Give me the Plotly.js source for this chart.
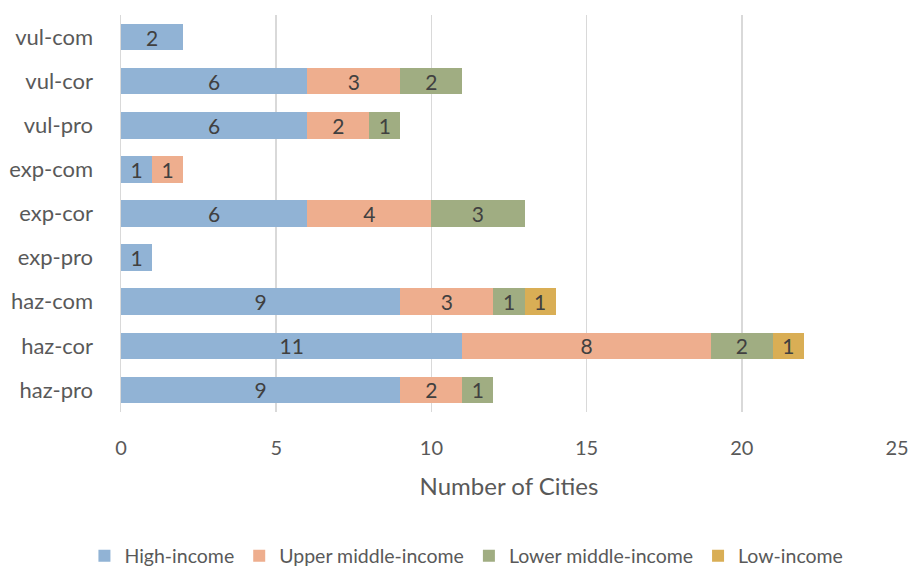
<!DOCTYPE html>
<html>
<head>
<meta charset="utf-8">
<script src="https://cdn.plot.ly/plotly-3.0.1.min.js"></script>
<style>html,body{margin:0;padding:0;background:#fff;}#chart{width:911px;height:567px;}</style>
</head>
<body>
<div id="chart"></div>
<script>
// Categories listed bottom to top
const categories = ["haz-pro", "haz-cor", "haz-com", "exp-pro", "exp-cor", "exp-com", "vul-pro", "vul-cor", "vul-com"];
const highIncome = [9, 11, 9, 1, 6, 1, 6, 6, 2];
const upperMiddleIncome = [2, 8, 3, null, 4, 1, 2, 3, null];
const lowerMiddleIncome = [1, 2, 1, null, 3, null, 1, 2, null];
const lowIncome = [null, 1, 1, null, null, null, null, null, null];
const seriesNames = ["High-income", "Upper middle-income", "Lower middle-income", "Low-income"];
const xTicks = [0, 5, 10, 15, 20, 25];

const colors = ["#91b3d5", "#eeae8e", "#a0ad82", "#d9ae55"];
const FONT = "Lato, 'Open Sans', sans-serif";
const textColor = "#404040";
const labelColor = "#595959";

function barTrace(name, values, color) {
  return {
    type: "bar",
    orientation: "h",
    name: name,
    y: categories,
    x: values,
    text: values.map(v => (v == null ? "" : String(v))),
    textposition: "inside",
    insidetextanchor: "middle",
    textangle: 0,
    constraintext: "none",
    textfont: {family: FONT, size: 21, color: textColor},
    marker: {color: color, line: {width: 0}},
    hoverinfo: "x+y+name"
  };
}

const data = [
  barTrace(seriesNames[0], highIncome, colors[0]),
  barTrace(seriesNames[1], upperMiddleIncome, colors[1]),
  barTrace(seriesNames[2], lowerMiddleIncome, colors[2]),
  barTrace(seriesNames[3], lowIncome, colors[3])
];

const layout = {
  width: 911,
  height: 567,
  barmode: "stack",
  bargap: 0.4,
  paper_bgcolor: "#ffffff",
  plot_bgcolor: "#ffffff",
  margin: {l: 121, r: 14, t: 15, b: 155, autoexpand: false},
  font: {family: FONT, color: textColor},
  xaxis: {
    range: [0, 25],
    tickvals: xTicks,
    ticktext: xTicks.map(String),
    showgrid: true,
    gridcolor: "#d9d9d9",
    gridwidth: 1.5,
    zeroline: false,
    showline: false,
    ticks: "",
    ticklabelstandoff: 22,
    tickfont: {family: FONT, size: 20, color: labelColor},
    title: {text: "Number of Cities", font: {family: FONT, size: 24, color: labelColor}, standoff: 20},
    fixedrange: true
  },
  yaxis: {
    categoryorder: "array",
    categoryarray: categories,
    showgrid: false,
    zeroline: false,
    showline: true,
    linecolor: "#d9d9d9",
    linewidth: 1.5,
    ticks: "",
    ticklabelstandoff: 22,
    tickfont: {family: FONT, size: 22, color: labelColor},
    fixedrange: true
  },
  legend: {
    orientation: "h",
    xref: "container",
    x: 0.512,
    xanchor: "center",
    y: -0.363,
    yanchor: "middle",
    font: {family: FONT, size: 19.5, color: labelColor},
    traceorder: "normal",
    itemwidth: 30
  },
  showlegend: true
};

Plotly.newPlot("chart", data, layout, {displayModeBar: false, staticPlot: true});
</script>
</body>
</html>
